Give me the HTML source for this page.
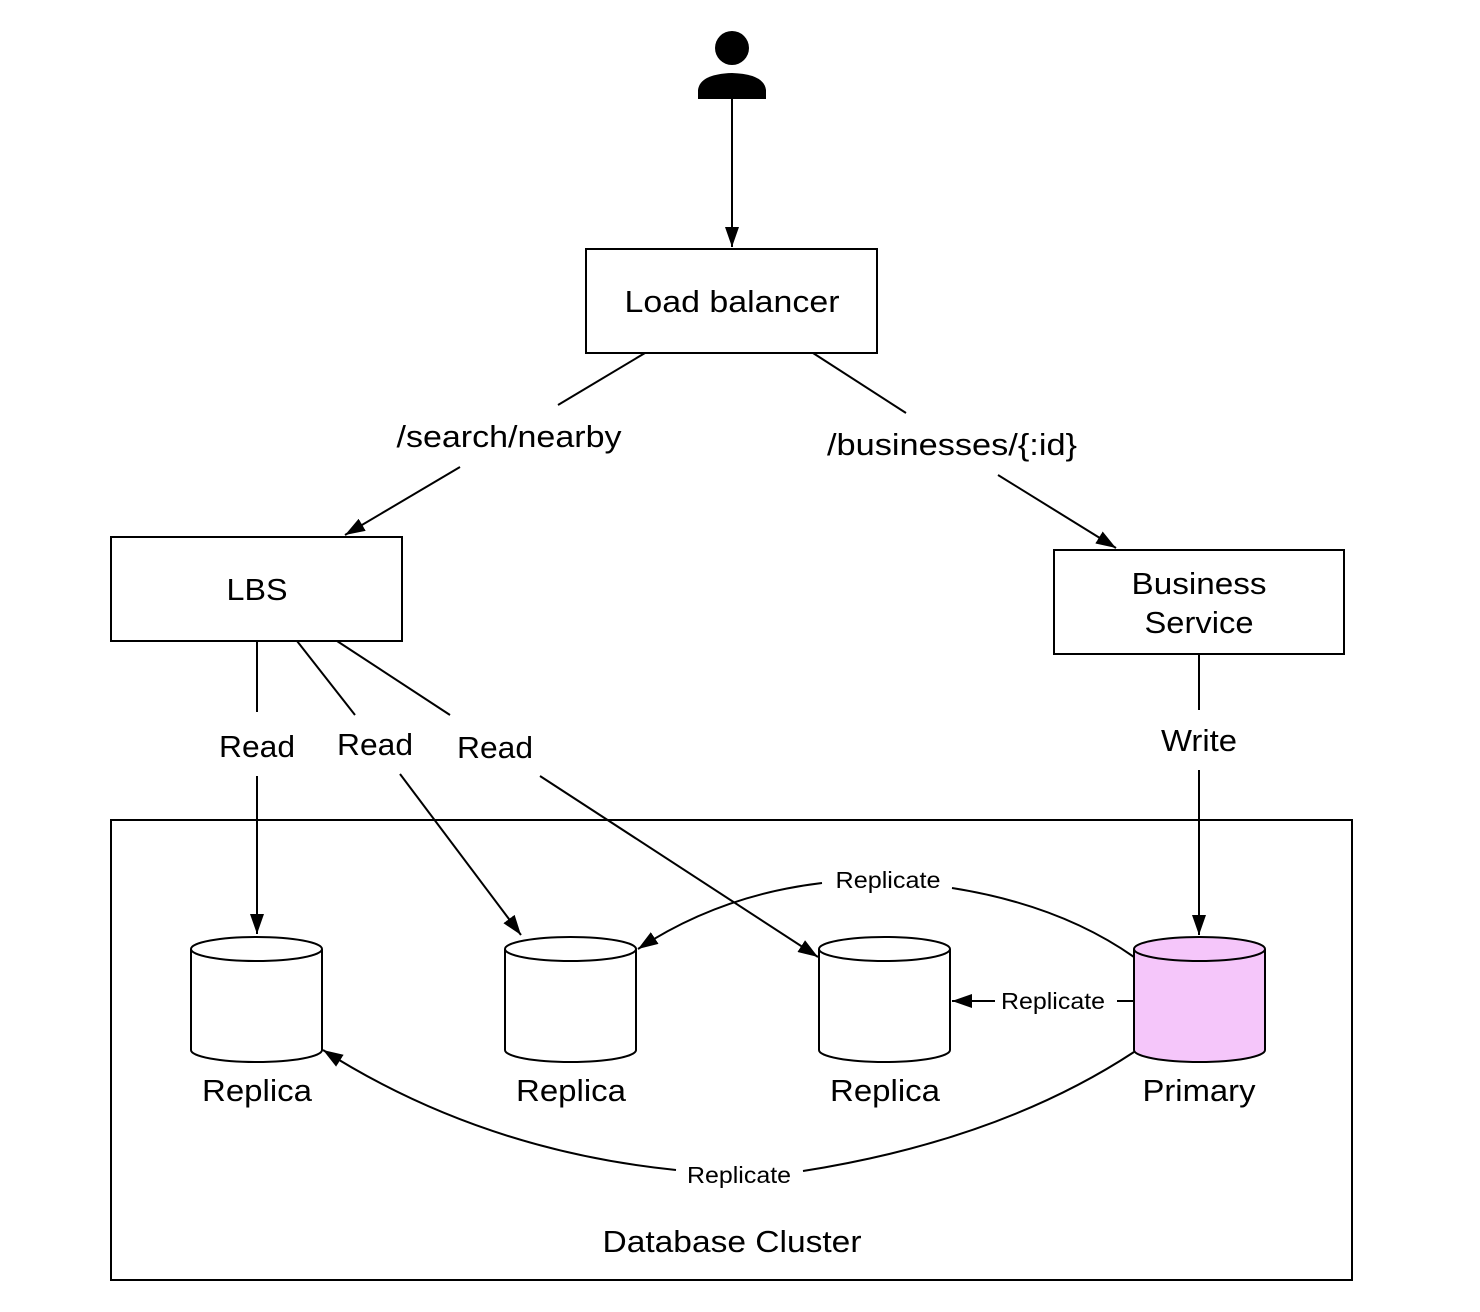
<!DOCTYPE html>
<html><head><meta charset="utf-8"><style>html,body{margin:0;padding:0;background:#fff}svg{display:block}</style></head>
<body>
<svg width="1480" height="1312" viewBox="0 0 1480 1312" xmlns="http://www.w3.org/2000/svg" font-family="Liberation Sans, Arial, sans-serif">
<defs>
<marker id="b" viewBox="0 0 20 14" refX="20" refY="7" markerWidth="20" markerHeight="14" markerUnits="userSpaceOnUse" orient="auto"><path d="M0,0 L20,7 L0,14 Z" fill="#000"/></marker>
</defs>
<g stroke="#000" stroke-width="2" fill="none">
<circle cx="732" cy="48" r="17" fill="#000" stroke="none"/>
<path d="M698,99 L698,90 Q700,74 732,73 Q764,74 766,90 L766,99 Z" fill="#000" stroke="none"/>
<line x1="732" y1="99" x2="732" y2="247" marker-end="url(#b)"/>
<rect x="586" y="249" width="291" height="104" fill="#fff"/>
<rect x="111" y="537" width="291" height="104" fill="#fff"/>
<rect x="1054" y="550" width="290" height="104" fill="#fff"/>
<rect x="111" y="820" width="1241" height="460"/>
<line x1="645" y1="353" x2="558" y2="405"/>
<line x1="460" y1="467" x2="345" y2="535" marker-end="url(#b)"/>
<line x1="813" y1="353" x2="906" y2="413"/>
<line x1="998" y1="475" x2="1116" y2="548" marker-end="url(#b)"/>
<line x1="257" y1="641" x2="257" y2="712"/>
<line x1="257" y1="776" x2="257" y2="934" marker-end="url(#b)"/>
<line x1="297" y1="641" x2="355" y2="715"/>
<line x1="400" y1="774" x2="521" y2="935" marker-end="url(#b)"/>
<line x1="337" y1="641" x2="450" y2="715"/>
<line x1="540" y1="776" x2="818" y2="957" marker-end="url(#b)"/>
<line x1="1199" y1="654" x2="1199" y2="710"/>
<line x1="1199" y1="770" x2="1199" y2="935" marker-end="url(#b)"/>
<path d="M1134,957 Q1060,905 952,888"/>
<path d="M822,883 Q720,895 638,949" marker-end="url(#b)"/>
<path d="M1134,1052 Q1000,1140 803,1171"/>
<path d="M676,1170 Q480,1150 323,1050" marker-end="url(#b)"/>
<line x1="1134" y1="1001" x2="1117" y2="1001"/>
<line x1="995" y1="1001" x2="952" y2="1001" marker-end="url(#b)"/>
</g>
<g stroke="#000" stroke-width="2">
<path d="M191,949 L191,1050 A65.5,12 0 0 0 322,1050 L322,949" fill="#fff"/><ellipse cx="256.5" cy="949" rx="65.5" ry="12" fill="#fff"/>
<path d="M505,949 L505,1050 A65.5,12 0 0 0 636,1050 L636,949" fill="#fff"/><ellipse cx="570.5" cy="949" rx="65.5" ry="12" fill="#fff"/>
<path d="M819,949 L819,1050 A65.5,12 0 0 0 950,1050 L950,949" fill="#fff"/><ellipse cx="884.5" cy="949" rx="65.5" ry="12" fill="#fff"/>
<path d="M1134,949 L1134,1050 A65.5,12 0 0 0 1265,1050 L1265,949" fill="#f5c6fa"/><ellipse cx="1199.5" cy="949" rx="65.5" ry="12" fill="#f5c6fa"/>
</g>
<g font-size="31" text-anchor="middle" fill="#000" lengthAdjust="spacingAndGlyphs">
<text x="732" y="312" textLength="215" lengthAdjust="spacingAndGlyphs">Load balancer</text>
<text x="257" y="600" textLength="61" lengthAdjust="spacingAndGlyphs">LBS</text>
<text x="1199" y="594" textLength="135" lengthAdjust="spacingAndGlyphs">Business</text>
<text x="1199" y="633" textLength="109" lengthAdjust="spacingAndGlyphs">Service</text>
<text x="509" y="447" textLength="225" lengthAdjust="spacingAndGlyphs">/search/nearby</text>
<text x="952" y="455" textLength="250" lengthAdjust="spacingAndGlyphs">/businesses/{:id}</text>
<text x="257" y="757" textLength="76" lengthAdjust="spacingAndGlyphs">Read</text>
<text x="375" y="755" textLength="76" lengthAdjust="spacingAndGlyphs">Read</text>
<text x="495" y="758" textLength="76" lengthAdjust="spacingAndGlyphs">Read</text>
<text x="1199" y="751" textLength="76" lengthAdjust="spacingAndGlyphs">Write</text>
<text x="257" y="1101" textLength="110" lengthAdjust="spacingAndGlyphs">Replica</text>
<text x="571" y="1101" textLength="110" lengthAdjust="spacingAndGlyphs">Replica</text>
<text x="885" y="1101" textLength="110" lengthAdjust="spacingAndGlyphs">Replica</text>
<text x="1199" y="1101" textLength="113" lengthAdjust="spacingAndGlyphs">Primary</text>
<text x="732" y="1252" textLength="259" lengthAdjust="spacingAndGlyphs">Database Cluster</text>
</g>
<g font-size="23" text-anchor="middle" fill="#000">
<text x="888" y="888" textLength="105" lengthAdjust="spacingAndGlyphs">Replicate</text>
<text x="1053" y="1009" textLength="104" lengthAdjust="spacingAndGlyphs">Replicate</text>
<text x="739" y="1183" textLength="104" lengthAdjust="spacingAndGlyphs">Replicate</text>
</g>
</svg>
</body></html>
